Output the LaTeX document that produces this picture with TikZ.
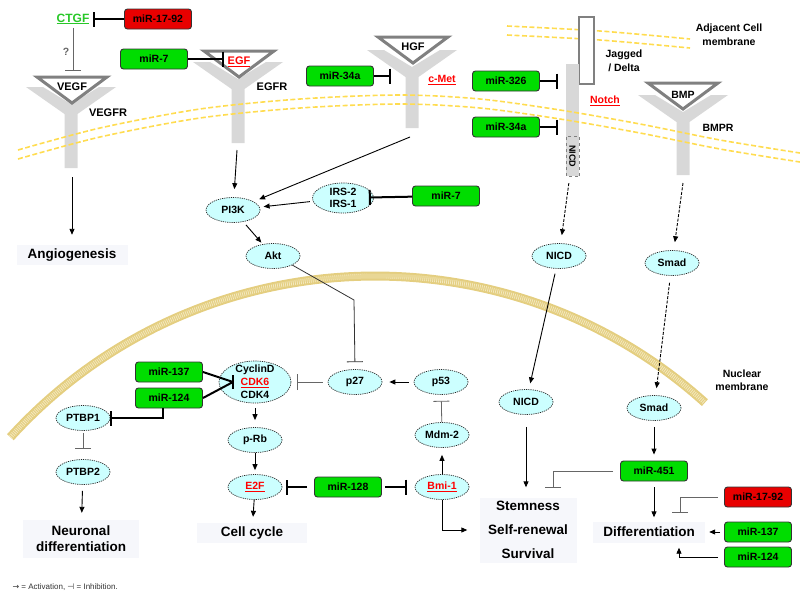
\documentclass[tikz,border=0pt]{standalone}
\usepackage{fontspec}
\setmainfont{Liberation Sans}
\newfontfamily\dejafont{DejaVu Sans}
\usetikzlibrary{shapes.geometric,arrows.meta,calc}

\definecolor{mirgreen}{RGB}{0,221,0}
\definecolor{mirred}{RGB}{232,0,0}
\definecolor{protcyan}{RGB}{204,255,255}
\definecolor{recgray}{RGB}{216,216,216}
\definecolor{memyellow}{RGB}{255,220,80}
\definecolor{nuctan}{RGB}{228,206,128}
\definecolor{nuclight}{RGB}{243,232,190}
\definecolor{outbg}{RGB}{246,247,251}
\definecolor{ctgfgreen}{RGB}{40,200,40}

% receptor: x, top, bottom
\newcommand{\recep}[3]{%
  \fill[recgray] (#1-45,#2) -- (#1-28,#2) -- (#1,#2+17) -- (#1+28,#2) -- (#1+45,#2)
    -- (#1+6.5,#2+27) -- (#1+6.5,#3) -- (#1-6.5,#3) -- (#1-6.5,#2+27) -- cycle;}
% ligand: x, top
\newcommand{\ligand}[2]{%
  \draw[black!50, line width=3pt, fill=white, line join=miter] (#1-35,#2) -- (#1+35,#2) -- (#1,#2+26) -- cycle;}

\begin{document}
\begin{tikzpicture}[x=1pt, y=-1pt,
    every node/.style={font=\fontsize{10.5}{12}\selectfont\bfseries},
    mir/.style={draw=black!80, line width=0.9pt, rounded corners=3pt, fill=mirgreen, minimum width=67pt, minimum height=20pt, inner sep=0pt},
    mirr/.style={mir, fill=mirred},
    prot/.style={ellipse, draw=black!85, line width=0.7pt, dash pattern=on 1.2pt off 1pt, fill=protcyan, minimum width=54pt, minimum height=25pt, inner sep=0pt},
    outc/.style={fill=outbg, font=\fontsize{13.5}{16}\selectfont\bfseries, align=center, inner sep=0pt},
    lbl/.style={font=\fontsize{11}{13}\selectfont\bfseries},
    memb/.style={memyellow, line width=1.6pt, dash pattern=on 5pt off 2.5pt},
    act/.style={-{Triangle[length=6pt,width=5pt]}, line width=0.9pt},
    inh/.style={-{Bar[width=15pt]}, line width=2pt},
    inhthin/.style={-{Bar[width=16pt]}, line width=0.8pt, black!60}]
  \useasboundingbox (0,0) rectangle (800,598);

  % nuclear membrane
  \draw[nuctan, line width=9pt] (375,769) ++(222.3:493) arc[start angle=222.3, end angle=312, radius=493];
  \draw[nuclight, line width=5pt, dash pattern=on 0.8pt off 1.2pt] (375,769) ++(222.3:493) arc[start angle=222.3, end angle=312, radius=493];

  % adjacent cell membrane
  \foreach \dy in {0,9}
    \draw[memb, yshift=-\dy pt] plot[smooth] coordinates {(507,26) (600,31) (690,39)};

  \recep{71}{87}{168}  \ligand{72}{77}
  \recep{238}{62}{143} \ligand{239}{51}
  \recep{412}{50}{128} \ligand{413}{37}
  \recep{683}{95}{175} \ligand{683}{83}
  \draw[black!50, line width=1.5pt, fill=white] (579,17) rectangle (594,84);
  \fill[recgray] (566,64) rectangle (579,176);

  % cell membrane
  \foreach \dy in {0,9}
    \draw[memb, yshift=-\dy pt] plot[smooth] coordinates {(18,150) (100,128) (200,109) (300,99) (400,95) (480,99) (560,110) (640,124) (720,140) (800,153)};

  \node[lbl] (L1) at (72,87) {VEGF};
  \node[lbl, text=red] (L2) at (239,62) {\underline{EGF}};
  \node[lbl] (L3) at (413,47) {HGF};
  \node (L4) at (683,95) {BMP};
  \node[lbl] (R1) at (108,113) {VEGFR};
  \node[lbl] (R2) at (272,87) {EGFR};
  \node[text=red] (R3) at (442,80) {\underline{c-Met}};
  \node[text=red] (R4) at (605,101) {\underline{Notch}};
  \node (R5) at (718,128) {BMPR};
  \node[align=center, font=\fontsize{10.5}{14}\selectfont\bfseries] (J1) at (624,61) {Jagged\\/ Delta};
  \node[align=center, font=\fontsize{10.5}{14}\selectfont\bfseries] (A1) at (729,35) {Adjacent Cell\\membrane};
  \node[align=center, font=\fontsize{10.5}{13}\selectfont\bfseries] (NM) at (742,380) {Nuclear\\membrane};
  \node[draw=black!50, dashed, fill=recgray, rotate=-90, minimum width=40pt, minimum height=13pt, inner sep=0pt, font=\fontsize{9}{10}\selectfont\bfseries] (N1) at (572.5,156) {NICD};

  \node[text=ctgfgreen, font=\fontsize{12}{14}\selectfont\bfseries] (T1) at (73,19) {\underline{CTGF}};
  \node[text=black!60] (T2) at (66,52) {?};

  \begin{scope}
    \node[mirr] (M1) at (158,19) {miR-17-92};
    \node[mir] (M2) at (154,59) {miR-7};
    \node[mir] (M3) at (340,76) {miR-34a};
    \node[mir] (M4) at (506,81) {miR-326};
    \node[mir] (M5) at (506,127) {miR-34a};
    \node[mir] (M6) at (446,196) {miR-7};
    \node[mir] (M7) at (169,372) {miR-137};
    \node[mir] (M8) at (169,398) {miR-124};
    \node[mir] (M9) at (348,487) {miR-128};
    \node[mir] (M10) at (654,471) {miR-451};
    \node[mirr] (M11) at (758,497) {miR-17-92};
    \node[mir] (M12) at (758,532) {miR-137};
    \node[mir] (M13) at (758,557) {miR-124};
  \end{scope}

  \begin{scope}
    \node[prot, minimum width=61pt, minimum height=30pt, inner ysep=-3pt, align=center] (P1) at (343,198) {IRS-2\\IRS-1};
    \node[prot] (P2) at (233,210) {PI3K};
    \node[prot] (P3) at (273,256) {Akt};
    \node[prot] (P4) at (559,256) {NICD};
    \node[prot] (P5) at (672,263) {Smad};
    \node[prot, minimum width=72pt, minimum height=42pt, inner ysep=-8pt, align=center, font=\fontsize{10.5}{13}\selectfont\bfseries] (P6) at (255,382) {CyclinD\\\textcolor{red}{\underline{CDK6}}\\CDK4};
    \node[prot] (P7) at (355,382) {p27};
    \node[prot] (P8) at (441,382) {p53};
    \node[prot] (P9) at (442,435) {Mdm-2};
    \node[prot, text=red] (P10) at (442,487) {\underline{Bmi-1}};
    \node[prot] (P11) at (255,440) {p-Rb};
    \node[prot, text=red] (P12) at (255,487) {\underline{E2F}};
    \node[prot] (P13) at (83,418) {PTBP1};
    \node[prot] (P14) at (83,472) {PTBP2};
    \node[prot] (P15) at (526,402) {NICD};
    \node[prot] (P16) at (654,408) {Smad};
  \end{scope}

  \node[outc, minimum width=111pt, minimum height=20pt] (O1) at (72,255) {Angiogenesis};
  \node[outc, minimum width=116pt, minimum height=38pt] (O2) at (81,539) {Neuronal\\differentiation};
  \node[outc, minimum width=110pt, minimum height=20pt] (O3) at (252,533) {Cell cycle};
  \node[outc, minimum width=97pt, minimum height=65pt, font=\fontsize{13.5}{24}\selectfont\bfseries] (O4) at (528,530) {Stemness\\Self-renewal\\Survival};
  \node[outc, minimum width=112pt, minimum height=21pt] (O5) at (649,532) {Differentiation};

  \node[anchor=west, font=\fontsize{8}{10}\selectfont, text=black!80] (LG) at (9,587) {{\dejafont →} = Activation, {\dejafont ⊣} = Inhibition.};

  \coordinate (V1) at (73,71);
  \coordinate (V2) at (72,177);
  \coordinate (E2) at (237,150);
  \coordinate (H1) at (391,76);
  \coordinate (C2) at (410,137);
  \coordinate (N2) at (558,81);
  \coordinate (N3) at (558,127);
  \coordinate (B2) at (683,183);
  \coordinate (K1) at (354,300);
  \coordinate (Q2) at (233,382);

  % upper part
  \draw[inh] (M1) -- (T1);
  \draw[inhthin] (T1.south) -- (V1);
  \draw[inh] (M2.east) -- (M2.east -| L2.west);
  \draw[inh] (M3) -- (H1);
  \draw[inh] (M4) -- (N2);
  \draw[inh] (M5) -- (N3);
  \draw[inh, shorten >=-5pt] (M6) -- (P1);
  \draw[act, shorten >=10pt] (V2) -- (O1);
  \draw[act, shorten >=8pt] (E2) -- (P2);
  \draw[act, shorten >=6pt] (C2) -- (P2);
  \draw[act, shorten <=3pt, shorten >=4pt] (P1) -- (P2);
  \draw[act, shorten <=4pt, shorten >=2pt] (P2) -- (P3);
  \draw[act, dash pattern=on 3pt off 1.5pt, shorten <=7pt, shorten >=8pt] (N1) -- (P4);
  \draw[act, dash pattern=on 3pt off 1.5pt, shorten >=8pt] (B2) -- (P5);
  \draw[inhthin, black!80, shorten >=7pt] (P3.south east) -- (K1) -- (P7.north);

  % nucleus
  \draw[line width=2pt] (M7.east) -- (Q2) (M8.east) -- (Q2);
  \draw[line width=2pt] ([yshift=7pt]Q2) -- ([yshift=-7pt]Q2);
  \draw[inh] ([xshift=-6pt]M8.south) |- (P13.east);
  \draw[inhthin, shorten <=2pt, shorten >=10pt] (P13) -- (P14);
  \draw[act, shorten <=6pt, shorten >=7pt] (P14) -- (O2);
  \draw[inhthin, shorten <=5pt, shorten >=6pt] (P7) -- (P6);
  \draw[act, shorten <=5pt, shorten >=7pt] (P8) -- (P7);
  \draw[act, shorten <=5pt, shorten >=7pt] (P6) -- (P11);
  \draw[act, shorten >=4pt] (P11) -- (P12);
  \draw[act, shorten >=6pt] (P12) -- (O3);
  \draw[inh, shorten <=7pt, shorten >=4pt] (M9) -- (P12);
  \draw[inh, shorten <=3pt, shorten >=8pt] (M9) -- (P10);
  \draw[act, shorten >=7pt] (P10) -- (P9);
  \draw[inhthin, shorten >=6pt] (P9) -- (P8);
  \draw[act, shorten >=12pt] (P10.south) |- (O4.west);
  \draw[act, shorten <=5pt, shorten >=6pt] (P4) -- (P15);
  \draw[act, shorten <=12pt, shorten >=10pt] (P15) -- (P15 |- O4.north);
  \draw[act, dash pattern=on 3pt off 1.5pt, shorten <=7pt, shorten >=7pt] (P5) -- (P16);
  \draw[act, shorten <=6pt, shorten >=6pt] (P16) -- (M10);
  \draw[act, shorten <=6pt, shorten >=4pt] (M10) -- (M10 |- O5.north);
  \draw[inhthin, shorten <=7pt, shorten >=10pt] (M10.west) -| ([xshift=25pt]O4.north);
  \draw[inhthin, shorten <=6pt, shorten >=9pt] (M11.west) -| ([xshift=31pt]O5.north);
  \draw[act, shorten <=4pt, shorten >=4pt] (M12) -- (O5);
  \draw[act, shorten <=6pt, shorten >=5pt] (M13.west) -| ([xshift=30pt]O5.south);
\end{tikzpicture}
\end{document}
